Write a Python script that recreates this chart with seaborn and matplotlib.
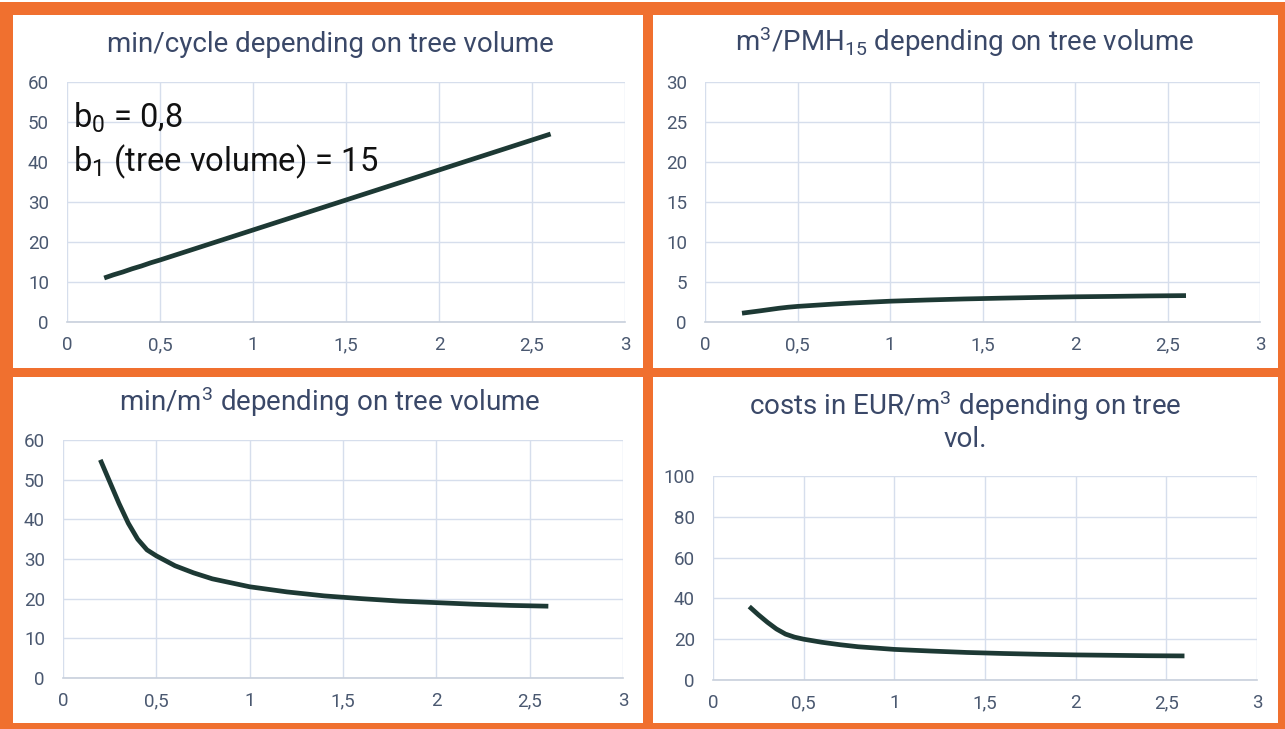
import matplotlib
matplotlib.use("Agg")
import matplotlib.pyplot as plt
import seaborn as sns
import pandas as pd
from matplotlib.patches import Rectangle

# ---- data ----
tree_volume = [0.2, 0.25, 0.3, 0.35, 0.4, 0.45, 0.5, 0.6, 0.7, 0.8, 1.0, 1.2, 1.4,
               1.6, 1.8, 2.0, 2.2, 2.4, 2.6]
min_per_cycle = [11, 11.8, 12.5, 13.3, 14, 14.8, 15.5, 17, 18.5, 20, 23, 26, 29,
                 32, 35, 38, 41, 44, 47]
m3_per_pmh = [1.1, 1.25, 1.4, 1.56, 1.72, 1.85, 1.95, 2.1, 2.25, 2.38, 2.6, 2.75, 2.88,
              2.98, 3.07, 3.15, 3.2, 3.26, 3.3]
min_per_m3 = [55, 49.5, 44, 39, 35, 32.3, 30.8, 28.3, 26.5, 25, 23, 21.7, 20.7,
              20, 19.4, 19, 18.6, 18.3, 18.1]
costs_eur_m3 = [36, 32, 28.3, 25, 22.5, 21, 20, 18.5, 17.3, 16.3, 15, 14.2, 13.5,
                13, 12.6, 12.3, 12.1, 11.9, 11.8]

x_ticks = [0, 0.5, 1, 1.5, 2, 2.5, 3]
x_tick_labels = ["0", "0,5", "1", "1,5", "2", "2,5", "3"]

titles = [
    "min/cycle depending on tree volume",
    "m$^3$/PMH$_{15}$ depending on tree volume",
    "min/m$^3$ depending on tree volume",
    "costs in EUR/m$^3$ depending on tree\nvol.",
]
y_limits = [(0, 60), (0, 30), (0, 60), (0, 100)]
y_steps = [10, 5, 10, 20]
series = [min_per_cycle, m3_per_pmh, min_per_m3, costs_eur_m3]

sns.set_theme(style="white")
plt.rcParams["font.family"] = ["Roboto", "DejaVu Sans"]
plt.rcParams["mathtext.fontset"] = "custom"
plt.rcParams["mathtext.rm"] = "Roboto"
plt.rcParams["mathtext.it"] = "Roboto"

W, H = 1285, 729
fig = plt.figure(figsize=(W / 100, H / 100), dpi=100)
fig.patch.set_facecolor("white")

ORANGE = "#f0702f"
# orange frame
fig.patches.append(Rectangle((0, 0), 1, 1 - 2 / H, transform=fig.transFigure,
                             facecolor=ORANGE, edgecolor="none", zorder=-2))
panels_px = [(13, 15, 643, 368), (653, 15, 1278, 368),
             (13, 377, 643, 723), (653, 377, 1278, 723)]
for (x0, y0, x1, y1) in panels_px:
    fig.patches.append(Rectangle((x0 / W, 1 - y1 / H), (x1 - x0) / W, (y1 - y0) / H,
                                 transform=fig.transFigure, facecolor="white",
                                 edgecolor="none", zorder=-1))

# axes positions (pixel coords of x=0..3 and y range)
axes_px = [(67, 625, 82, 322), (705, 1260, 82, 322),
           (63, 623, 440, 678), (713, 1257, 476, 680)]
title_px = [(330, 44), (965, 42), (330, 402), (965, 421)]

LINE = "#1d3934"
GRID = "#d6deec"
TICK = "#4a5870"
TITLE = "#3a4868"

for i in range(4):
    xl, xr, yt, yb = axes_px[i]
    ax = fig.add_axes([xl / W, 1 - yb / H, (xr - xl) / W, (yb - yt) / H])
    ax.set_facecolor("none")
    df = pd.DataFrame({"x": tree_volume, "y": series[i]})
    sns.lineplot(data=df, x="x", y="y", ax=ax, color=LINE, linewidth=3.4,
                 solid_capstyle="butt", solid_joinstyle="round")
    ax.set_xlim(0, 3)
    ax.set_ylim(*y_limits[i])
    ax.set_xticks(x_ticks)
    ax.set_xticklabels(x_tick_labels)
    lo, hi = y_limits[i]
    ax.set_yticks(list(range(lo, hi + 1, y_steps[i])))
    ax.grid(True, color=GRID, linewidth=1.0)
    ax.set_axisbelow(True)
    for s in ["top", "right", "left"]:
        ax.spines[s].set_visible(False)
    ax.spines["bottom"].set_color("#c8d0dc")
    ax.spines["bottom"].set_linewidth(1.2)
    ax.tick_params(axis="both", length=0, labelsize=13.5, colors=TICK)
    ax.tick_params(axis="x", pad=10)
    ax.tick_params(axis="y", pad=13)
    ax.set_xlabel("")
    ax.set_ylabel("")
    tx, ty = title_px[i]
    fig.text(tx / W, 1 - ty / H, titles[i], ha="center", va="center",
             fontsize=20, color=TITLE, linespacing=1.15)

# annotation in first panel
fig.text(73 / W, 1 - 118 / H, "b$_0$ = 0,8", ha="left", va="center",
         fontsize=23.5, color="#111111")
fig.text(73 / W, 1 - 162 / H, "b$_1$ (tree volume) = 15", ha="left", va="center",
         fontsize=23.5, color="#111111")

fig.savefig("out.png", dpi=100, facecolor=fig.get_facecolor())
